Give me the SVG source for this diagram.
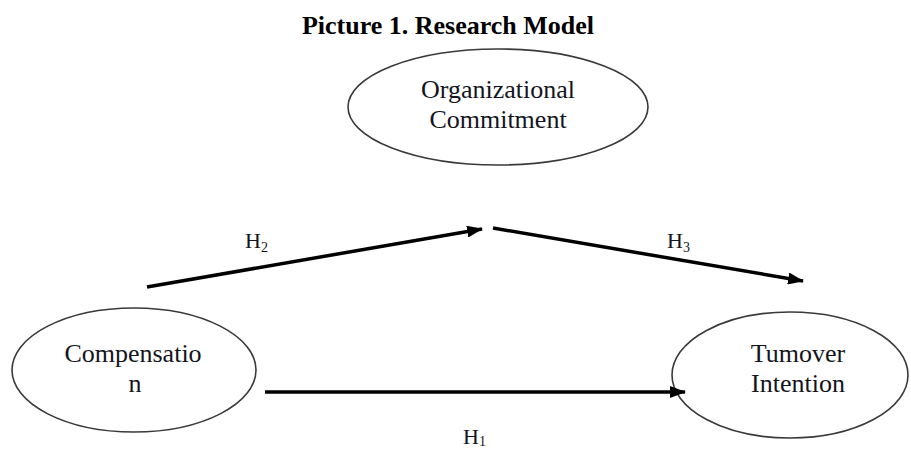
<svg xmlns="http://www.w3.org/2000/svg" width="911" height="452" viewBox="0 0 911 452">
<style>
.node ellipse{fill:#fff;stroke:#3a3a3a;stroke-width:1.6}
.lbl{font-family:"Liberation Serif","Times New Roman",serif;font-size:26px;fill:#141420;text-anchor:middle}
.h{font-family:"Liberation Serif","Times New Roman",serif;font-size:22px;fill:#141420}
.sub{font-size:14px}
.title{font-family:"Liberation Serif","Times New Roman",serif;font-size:26px;font-weight:bold;fill:#000;text-anchor:middle}
.conn line{stroke:#000;stroke-width:3.5;fill:none}
</style>
<defs>
<marker id="ah" markerUnits="userSpaceOnUse" markerWidth="16" markerHeight="12" refX="15" refY="6" orient="auto">
<path d="M0,0 L16,6 L0,12 z" fill="#000"/>
</marker>
</defs>
<rect width="911" height="452" fill="#fff"/>
<text class="title" x="448" y="34">Picture 1. Research Model</text>
<g id="organizational-commitment" class="node">
<ellipse cx="498" cy="107" rx="150" ry="58"/>
<text class="lbl" font-family="Liberation Serif, serif" x="498" y="98">Organizational</text>
<text class="lbl" font-family="Liberation Serif, serif" x="498" y="128">Commitment</text>
</g>
<g id="compensation" class="node">
<ellipse cx="134" cy="370" rx="122" ry="62"/>
<text class="lbl" font-family="Liberation Serif, serif" x="133" y="362">Compensatio</text>
<text class="lbl" font-family="Liberation Serif, serif" x="135" y="392">n</text>
</g>
<g id="turnover-intention" class="node">
<ellipse cx="790" cy="375" rx="118" ry="63"/>
<text class="lbl" font-family="Liberation Serif, serif" x="798" y="362">Tumover</text>
<text class="lbl" font-family="Liberation Serif, serif" x="798" y="392">Intention</text>
</g>
<g id="connectors" class="conn">
<line x1="147" y1="287" x2="482" y2="229" marker-end="url(#ah)"/>
<line x1="493" y1="228" x2="803" y2="281" marker-end="url(#ah)"/>
<line x1="265" y1="392" x2="685" y2="392" marker-end="url(#ah)"/>
<text class="h" x="245" y="248">H<tspan class="sub" dy="4">2</tspan></text>
<text class="h" x="667" y="248">H<tspan class="sub" dy="4">3</tspan></text>
<text class="h" x="463" y="444">H<tspan class="sub" dy="2">1</tspan></text>
</g>
</svg>
